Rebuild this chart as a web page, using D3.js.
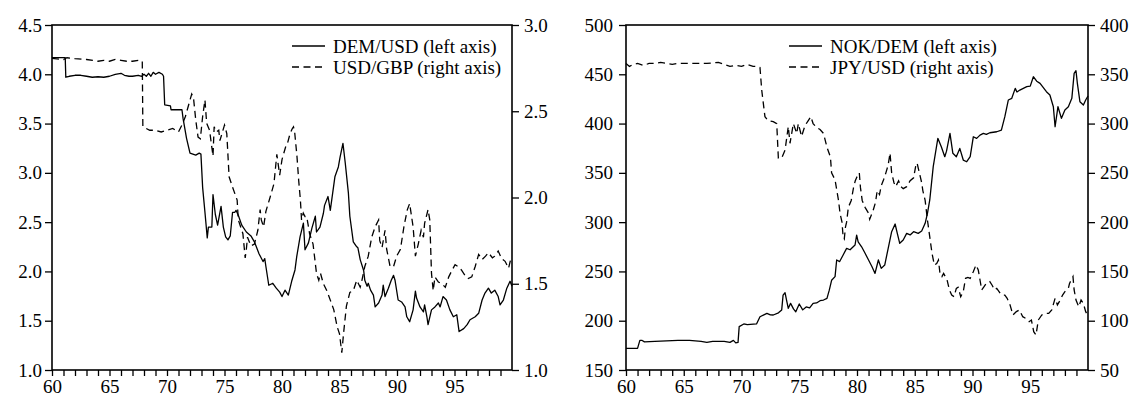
<!DOCTYPE html>
<html>
<head>
<meta charset="utf-8">
<script src="https://cdn.jsdelivr.net/npm/d3@7"></script>
<style>
  html, body { margin: 0; padding: 0; background: #fff; }
  svg { display: block; }
</style>
</head>
<body>
<svg id="chart" width="1131" height="397"></svg>
<script>
// Monthly exchange rates 1960-1999, stored as [year (two digits, fractional), rate]

const demUsd = [
  [60.0,4.17],[61.15,4.17],[61.2,3.97],[61.5,3.98],[62.0,3.99],[62.5,3.99],[63.0,3.98],[63.5,3.97],
  [64.0,3.975],[64.5,3.97],[65.0,3.98],[65.5,4.0],[66.0,4.01],[66.3,3.99],[66.7,3.98],[67.0,3.98],
  [67.5,3.99],[67.8,3.98],[68.0,4.0],[68.2,3.98],[68.4,4.01],[68.6,3.98],[68.8,4.02],[69.0,4.0],
  [69.3,4.02],[69.6,4.0],[69.7,3.98],[69.8,3.69],[70.3,3.68],[70.35,3.64],[71.3,3.64],[71.4,3.55],
  [71.7,3.35],[72.0,3.2],[72.5,3.18],[72.8,3.2],[72.95,3.19],[73.1,2.85],[73.3,2.6],[73.5,2.34],
  [73.6,2.45],[73.9,2.45],[74.0,2.78],[74.2,2.58],[74.4,2.47],[74.7,2.66],[74.9,2.45],[75.1,2.35],
  [75.3,2.32],[75.5,2.36],[75.7,2.6],[75.9,2.6],[76.0,2.62],[76.2,2.57],[76.5,2.47],[76.9,2.40],
  [77.3,2.36],[77.6,2.30],[78.0,2.18],[78.35,2.10],[78.5,2.13],[78.6,2.05],[78.85,1.86],[79.2,1.88],
  [79.5,1.83],[79.8,1.79],[80.0,1.745],[80.26,1.81],[80.55,1.76],[80.84,1.90],[81.13,2.015],[81.28,2.15],
  [81.57,2.35],[81.86,2.49],[82.0,2.22],[82.3,2.29],[82.6,2.44],[82.9,2.56],[83.0,2.40],[83.3,2.45],
  [83.6,2.59],[83.7,2.67],[84.0,2.76],[84.2,2.62],[84.6,2.96],[84.9,3.06],[85.05,3.16],[85.3,3.30],
  [85.5,3.1],[85.77,2.80],[85.9,2.56],[86.2,2.30],[86.5,2.25],[86.6,2.24],[86.8,2.12],[87.1,2.01],
  [87.2,1.91],[87.4,1.85],[87.5,1.88],[87.7,1.81],[87.95,1.76],[88.1,1.64],[88.4,1.68],[88.7,1.76],
  [88.8,1.86],[88.96,1.745],[89.25,1.83],[89.5,1.91],[89.7,1.96],[89.83,1.91],[90.1,1.71],[90.4,1.69],
  [90.7,1.64],[90.85,1.54],[91.1,1.49],[91.4,1.61],[91.6,1.80],[91.7,1.73],[92.0,1.64],[92.3,1.59],
  [92.4,1.66],[92.6,1.54],[92.7,1.46],[93.0,1.61],[93.3,1.64],[93.6,1.68],[93.75,1.64],[94.0,1.745],
  [94.3,1.71],[94.6,1.61],[94.9,1.54],[95.2,1.56],[95.4,1.39],[95.8,1.42],[96.1,1.46],[96.35,1.51],
  [96.8,1.54],[97.1,1.575],[97.4,1.71],[97.65,1.78],[97.95,1.83],[98.2,1.78],[98.5,1.81],[98.8,1.745],
  [98.96,1.66],[99.25,1.71],[99.55,1.83],[99.83,1.90],[100.0,1.85]
];

const usdGbp = [
  [60.0,2.807],[61.0,2.80],[61.3,2.81],[62.0,2.805],[63.0,2.80],[64.0,2.79],[64.5,2.795],[65.0,2.79],
  [65.5,2.80],[66.0,2.795],[66.5,2.79],[67.0,2.79],[67.5,2.795],[67.85,2.79],[67.9,2.41],[68.5,2.39],
  [69.0,2.39],[69.5,2.38],[70.0,2.39],[70.5,2.40],[71.0,2.38],[71.3,2.42],[71.6,2.47],[72.15,2.60],
  [72.3,2.58],[72.5,2.45],[72.7,2.35],[72.9,2.34],[73.1,2.47],[73.3,2.565],[73.45,2.43],[73.7,2.39],
  [74.0,2.24],[74.1,2.41],[74.3,2.38],[74.5,2.39],[74.6,2.33],[75.0,2.42],[75.2,2.37],[75.4,2.12],
  [75.7,2.06],[76.1,1.985],[76.2,1.87],[76.6,1.79],[76.8,1.65],[76.9,1.70],[77.0,1.77],[77.3,1.72],
  [77.6,1.73],[77.9,1.81],[78.1,1.93],[78.2,1.87],[78.4,1.83],[78.6,1.92],[78.96,2.0],[79.3,2.08],
  [79.55,2.25],[79.8,2.13],[80.0,2.22],[80.3,2.29],[80.5,2.32],[80.7,2.37],[80.9,2.40],[81.0,2.41],
  [81.1,2.38],[81.3,2.24],[81.45,2.10],[81.6,1.985],[81.7,1.87],[81.85,1.91],[82.0,1.89],[82.15,1.89],
  [82.4,1.79],[82.7,1.73],[83.0,1.56],[83.2,1.52],[83.35,1.56],[83.6,1.50],[83.9,1.46],[84.2,1.405],
  [84.5,1.35],[84.8,1.25],[85.0,1.21],[85.2,1.10],[85.35,1.21],[85.6,1.37],[85.9,1.45],[86.2,1.46],
  [86.5,1.52],[86.65,1.50],[86.8,1.48],[86.95,1.52],[87.2,1.60],[87.5,1.66],[87.8,1.77],[88.1,1.83],
  [88.4,1.87],[88.5,1.75],[88.7,1.71],[88.96,1.81],[89.1,1.70],[89.4,1.60],[89.7,1.60],[89.97,1.66],
  [90.3,1.70],[90.6,1.83],[90.9,1.93],[91.1,1.965],[91.4,1.83],[91.6,1.66],[91.85,1.73],[92.1,1.81],
  [92.3,1.77],[92.4,1.85],[92.7,1.93],[92.85,1.87],[93.0,1.56],[93.15,1.46],[93.3,1.54],[93.6,1.51],
  [93.9,1.50],[94.2,1.48],[94.5,1.54],[94.8,1.58],[95.05,1.61],[95.3,1.60],[95.6,1.58],[95.9,1.55],
  [96.2,1.53],[96.5,1.54],[96.8,1.60],[97.1,1.67],[97.4,1.64],[97.7,1.66],[97.95,1.68],[98.3,1.65],
  [98.5,1.66],[98.8,1.69],[99.1,1.645],[99.4,1.63],[99.7,1.59],[99.95,1.66]
];

const nokDem = [
  [60.0,172],[61.0,172],[61.2,180],[61.4,180],[61.6,178.5],[62.5,179],[63.5,179.5],[64.5,180],
  [65.5,180],[66.5,179],[67.0,178],[67.5,179],[68.5,179],[69.0,178],[69.3,180],[69.5,177.5],
  [69.7,178],[69.8,194],[70.2,196.7],[70.5,196],[71.3,196.7],[71.6,204],[72.2,207.5],[72.5,206],
  [72.75,205.8],[73.2,208],[73.48,210.9],[73.6,226],[73.77,228.4],[73.9,221],[74.05,212.6],[74.25,217.6],
  [74.5,212],[74.7,209],[75.0,217],[75.3,211],[75.6,214],[75.9,213],[76.2,217.6],[76.5,218],
  [76.8,220.3],[77.1,221],[77.4,222.7],[77.6,231],[77.8,241],[78.1,244.7],[78.24,261.6],[78.5,260],
  [78.8,266.7],[79.1,273.4],[79.4,272],[79.83,276.8],[79.97,286.9],[80.1,280],[80.4,275],[80.7,268.4],
  [81.0,261.6],[81.3,254.8],[81.56,248],[81.85,261.6],[82.1,253.1],[82.4,256.5],[82.7,273.4],[83.0,290.3],
  [83.3,298.1],[83.5,288],[83.7,278.5],[84.0,281.9],[84.3,288.6],[84.6,287],[84.9,290.3],[85.3,288.6],
  [85.6,291],[85.9,298.8],[86.1,309],[86.3,322.5],[86.6,356.3],[87.0,385],[87.3,376.5],[87.6,366.4],
  [87.75,372],[88.05,390],[88.3,369.8],[88.6,366.4],[88.9,374.8],[89.2,363],[89.5,361.3],[89.8,366.4],
  [90.07,386.6],[90.36,385],[90.65,388.3],[90.94,390],[91.2,389],[91.5,390.7],[92.1,391.7],[92.5,393.4],
  [92.8,407],[93.1,423.9],[93.4,425.6],[93.7,435.7],[93.85,432],[94.1,434],[94.4,435.7],[94.7,437.4],
  [95.0,438],[95.27,447.5],[95.56,443],[95.85,440.8],[96.1,437],[96.4,432.3],[96.7,429],[97.0,417.1],
  [97.15,396.8],[97.4,417.1],[97.7,405.3],[98.0,413.8],[98.3,417],[98.6,425.6],[98.8,450.9],[98.96,453.6],
  [99.08,440.8],[99.3,422.2],[99.6,418.9],[99.8,423.9],[100.0,428]
];

const jpyUsd = [
  [60.0,361],[60.3,358],[60.6,360],[61.0,361],[61.5,359],[62.0,361],[62.5,361],[63.0,362],
  [63.5,361],[64.0,360],[64.5,361],[65.0,361],[66.0,361],[67.0,361],[68.0,362],[68.5,360],
  [69.0,358],[69.5,359],[70.0,358],[70.5,360],[71.0,358],[71.3,358],[71.6,357],[71.75,334],
  [72.03,307],[72.3,303],[72.75,302],[73.05,300],[73.19,265],[73.48,265],[73.77,273],[74.05,297],
  [74.2,280],[74.49,300],[74.78,290],[74.92,300],[75.2,287],[75.5,298],[75.78,303],[76.0,307],
  [76.2,300],[76.5,296],[76.8,294],[77.1,290],[77.4,276],[77.7,266],[77.8,250],[78.1,243],
  [78.24,233],[78.4,222],[78.53,209],[78.7,200],[78.8,185],[78.9,183],[79.0,195],[79.1,200],
  [79.25,215],[79.5,222],[79.7,235],[79.85,242],[80.0,246],[80.2,250],[80.3,235],[80.45,222],
  [80.7,215],[81.0,209],[81.1,203],[81.4,212],[81.6,220],[81.75,232],[81.95,228],[82.1,237],
  [82.3,243],[82.5,250],[82.7,258],[82.86,270],[83.0,250],[83.2,240],[83.35,236],[83.6,242],
  [83.8,236],[84.0,234],[84.3,236],[84.6,242],[84.9,245],[85.1,258],[85.2,260],[85.4,250],
  [85.6,240],[85.7,232],[85.9,222],[86.1,202],[86.3,185],[86.5,168],[86.7,156.5],[86.9,158],
  [87.05,161.6],[87.2,146.4],[87.35,144.7],[87.5,148],[87.8,141.3],[88.0,131.2],[88.2,126],[88.4,124.4],
  [88.6,132.8],[88.75,134],[88.98,124.4],[89.2,129.5],[89.4,143],[89.6,144],[89.8,143],[90.07,149.7],
  [90.3,156.5],[90.5,151.4],[90.65,141.3],[90.8,131.2],[91.0,134.5],[91.2,138],[91.5,139.6],[91.7,136],
  [91.9,131.2],[92.1,132.8],[92.4,127.8],[92.6,126],[92.8,126],[93.0,122.7],[93.25,116],[93.5,105.8],
  [93.8,109.2],[94.06,110.9],[94.35,104.1],[94.6,102.4],[94.9,99],[95.1,100.7],[95.3,88.9],[95.5,85.5],
  [95.7,100.7],[96.0,105.8],[96.28,107.5],[96.6,107.5],[96.86,110.9],[97.15,122.7],[97.35,116],[97.6,121],
  [97.8,126],[98.0,129.5],[98.3,132.8],[98.4,137.9],[98.7,144.7],[98.8,131.2],[98.96,121],[99.2,114.2],
  [99.4,121],[99.6,117.6],[99.8,109.2],[100.0,105]
];

// Axis definitions
const yearDomain = [60, 100];
const yearTicks = d3.range(60, 100);
const leftTicksA = [1.0, 1.5, 2.0, 2.5, 3.0, 3.5, 4.0, 4.5];
const rightTicksA = [1.0, 1.5, 2.0, 2.5, 3.0];
const leftTicksB = [150, 200, 250, 300, 350, 400, 450, 500];
const rightTicksB = [50, 100, 150, 200, 250, 300, 350, 400];

const legendA = ["DEM/USD (left axis)", "USD/GBP (right axis)"];
const legendB = ["NOK/DEM (left axis)", "JPY/USD (right axis)"];

const FONT = "'Liberation Serif', 'Times New Roman', Times, serif";
const svg = d3.select("#chart");

function styleText(sel, size) {
  sel.style("font-family", FONT).style("font-size", size).attr("fill", "#000");
}

function drawPanel(opt) {
  const { x0, x1, top, bottom } = opt;
  const g = svg.append("g");

  const x = d3.scaleLinear().domain(yearDomain).range([x0, x1]);
  const yL = d3.scaleLinear().domain(opt.leftDomain).range([bottom, top]);
  const yR = d3.scaleLinear().domain(opt.rightDomain).range([bottom, top]);

  // Axes: yearly ticks below, labels every five years
  const ax = g.append("g").attr("transform", `translate(0,${bottom})`)
    .call(d3.axisBottom(x).tickValues(yearTicks).tickSize(6)
      .tickFormat(d => d % 5 === 0 ? String(d) : ""));
  ax.selectAll("text").attr("dy", null).attr("y", 23);

  const al = g.append("g").attr("transform", `translate(${x0},0)`)
    .call(d3.axisLeft(yL).tickValues(opt.leftTicks).tickSize(7).tickPadding(opt.leftPad)
      .tickFormat(opt.fmt));

  const ar = g.append("g").attr("transform", `translate(${x1},0)`)
    .call(d3.axisRight(yR).tickValues(opt.rightTicks).tickSize(7).tickPadding(5)
      .tickFormat(opt.fmt));

  [ax, al, ar].forEach(a => {
    a.attr("font-family", null).attr("font-size", null);
    a.select(".domain").remove();
    a.selectAll("line").attr("stroke", "#000").attr("stroke-width", 1.3);
    styleText(a.selectAll("text"), "19px");
  });

  // Frame
  g.append("rect")
    .attr("x", x0).attr("y", top)
    .attr("width", x1 - x0).attr("height", bottom - top)
    .attr("fill", "none").attr("stroke", "#000").attr("stroke-width", 1.6);

  // Series
  const lineL = d3.line().x(d => x(d[0])).y(d => yL(d[1]));
  const lineR = d3.line().x(d => x(d[0])).y(d => yR(d[1]));

  g.append("path").datum(opt.leftData)
    .attr("d", lineL).attr("fill", "none").attr("stroke", "#000")
    .attr("stroke-width", 1.3).attr("stroke-linejoin", "round");
  g.append("path").datum(opt.rightData)
    .attr("d", lineR).attr("fill", "none").attr("stroke", "#000")
    .attr("stroke-width", 1.3).attr("stroke-dasharray", "7,4.5");

  // Legend
  const lg = g.append("g");
  const rows = [46, 67];
  opt.legend.forEach((label, i) => {
    lg.append("line")
      .attr("x1", opt.legendX).attr("x2", opt.legendX + 33)
      .attr("y1", rows[i]).attr("y2", rows[i])
      .attr("stroke", "#000").attr("stroke-width", 1.3)
      .attr("stroke-dasharray", i === 1 ? "7,4.5" : null);
    const t = lg.append("text")
      .attr("x", opt.legendX + 41).attr("y", rows[i])
      .attr("dy", "0.35em")
      .text(label);
    styleText(t, "19px");
  });
}

drawPanel({
  x0: 52, x1: 512, top: 25, bottom: 370,
  leftDomain: [1.0, 4.5], rightDomain: [1.0, 3.0],
  leftTicks: leftTicksA, rightTicks: rightTicksA, leftPad: 3,
  fmt: d3.format(".1f"),
  leftData: demUsd, rightData: usdGbp,
  legend: legendA, legendX: 292
});

drawPanel({
  x0: 626, x1: 1088, top: 25, bottom: 370,
  leftDomain: [150, 500], rightDomain: [50, 400],
  leftTicks: leftTicksB, rightTicks: rightTicksB, leftPad: 6,
  fmt: d3.format("d"),
  leftData: nokDem, rightData: jpyUsd,
  legend: legendB, legendX: 789
});
</script>
</body>
</html>
